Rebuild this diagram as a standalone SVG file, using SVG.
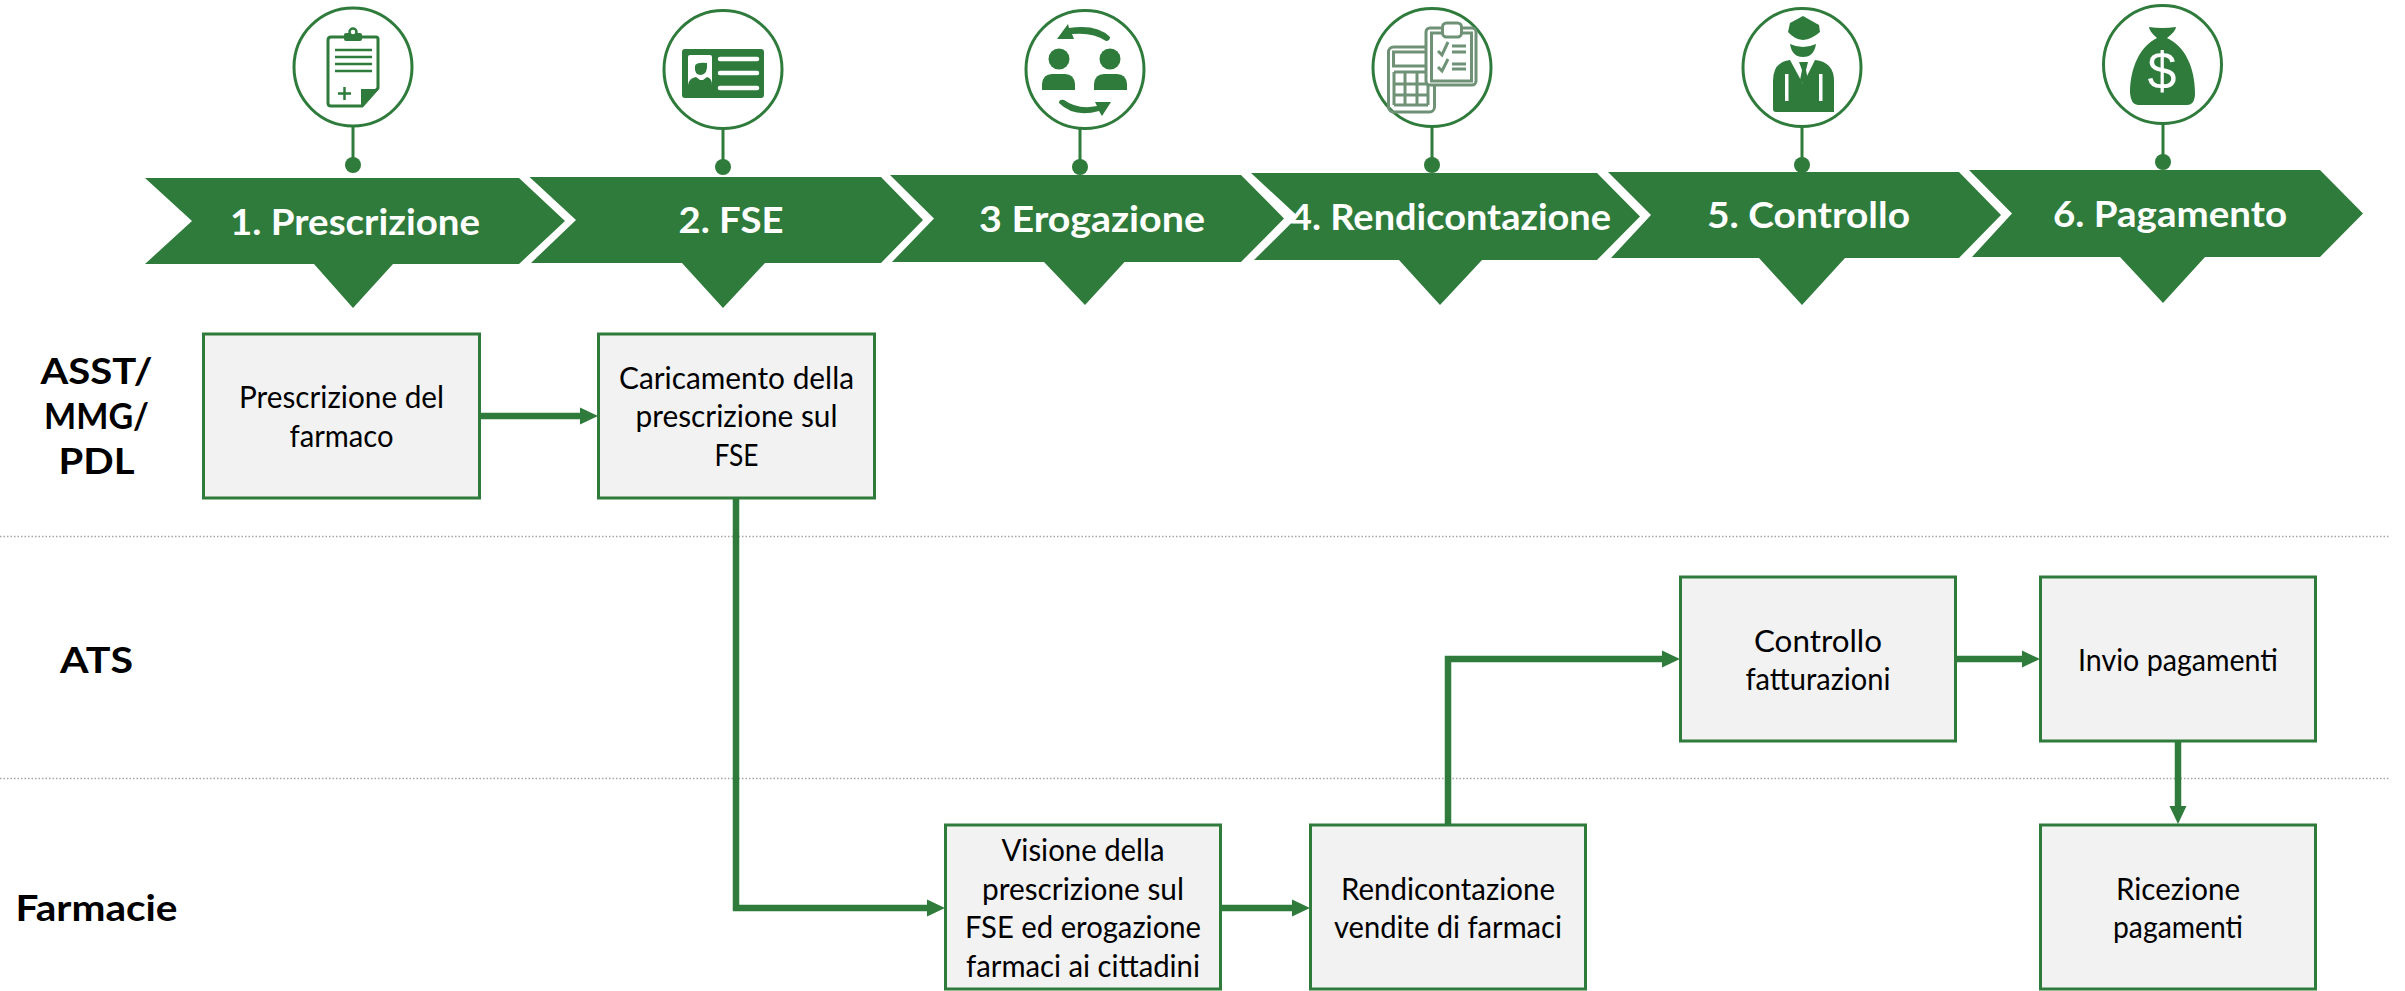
<svg xmlns="http://www.w3.org/2000/svg" width="2405" height="991" viewBox="0 0 2405 991">
<style>
text{font-family:"Lato","Liberation Sans",sans-serif;text-anchor:middle}
.chev{fill:#2E7B3B}
.ring{fill:#fff;stroke:#2E7B3B;stroke-width:3}
.stalk{stroke:#2E7B3B;stroke-width:3;fill:none}
.dot{fill:#2E7B3B}
.g{fill:#2E7B3B}
.w{fill:#fff}
.ol{fill:none;stroke:#2E7B3B;stroke-width:3}
.gl{fill:none;stroke:#2E7B3B;stroke-width:2.5}
.wl{fill:none;stroke:#fff;stroke-width:4.5;stroke-linecap:round}
.ic4{fill:none;stroke:#6F9277;stroke-width:3}
.title{font-size:37px;font-weight:700;fill:#fff}
.lane{font-size:36px;font-weight:700;fill:#000}
.box{fill:#F2F2F2;stroke:#2E7B3B;stroke-width:3}
.t{font-size:30.5px;fill:#000}
.sep{stroke:#A6A6A6;stroke-width:1.5;stroke-dasharray:1.5 2;fill:none}
.con{fill:none;stroke:#2E7B3B;stroke-width:6.5}
</style>
<defs>
<marker id="ah" markerUnits="userSpaceOnUse" markerWidth="18" markerHeight="18" refX="8" refY="9" orient="auto"><path d="M0,0.5 L18,9 L0,17.5 z" fill="#2E7B3B"/></marker>
</defs>

<g id="separators">
<line class="sep" x1="0" y1="536.5" x2="2390" y2="536.5"/>
<line class="sep" x1="0" y1="778.5" x2="2390" y2="778.5"/>
</g>

<g id="step1">
<path class="chev" d="M145,178 H519 L565,221 L519,264 H393 L353,308 L314,264 H145 L192,221 Z"/>
<line class="stalk" x1="353" y1="127" x2="353" y2="160"/><circle class="dot" cx="353" cy="165" r="8"/>
<circle class="ring" cx="353" cy="67" r="59"/>
<path class="ol" d="M331,37 H376 Q378,37 378,39 V88 L362,106 H331 Q328,106 328,103 V40 Q328,37 331,37 Z"/>
<rect class="g" x="344" y="33" width="18" height="8" rx="2"/><circle cx="353" cy="32" r="3.5" fill="#fff" stroke="#2E7B3B" stroke-width="2.5"/>
<path class="gl" d="M335,50H372M335,57H372M335,64H372M335,71H372M344.5,87V100M338,93.5H351"/>
<path class="g" d="M361,89 H379 L363,107 H361 Z"/>
<text class="title" x="355" y="235" textLength="250" lengthAdjust="spacingAndGlyphs">1. Prescrizione</text>
</g>

<g id="step2">
<path class="chev" d="M529.5,177 H881 L923,220 L881,263 H765 L723,308 L682,263 H531 L576,220 Z"/>
<line class="stalk" x1="723" y1="129" x2="723" y2="162"/><circle class="dot" cx="723" cy="167" r="8"/>
<circle class="ring" cx="723" cy="69.5" r="59"/>
<rect class="g" x="682" y="49" width="82" height="49" rx="3"/>
<path class="w" d="M690,55 H710 Q712,55 712,57 V85 H688 V57 Q688,55 690,55 Z"/>
<path class="g" d="M695,66 Q696,62 707,63 Q708,74 701,75 Q694,75 695,66 Z"/>
<path class="g" d="M688,85 Q689,78 696,77 L700,80 L703,80 L707,77 Q712,78 712,85 Z"/>
<path class="wl" d="M720,59H757M720,73H757M720,88H757"/>
<text class="title" x="731" y="233" textLength="105" lengthAdjust="spacingAndGlyphs">2. FSE</text>
</g>

<g id="step3">
<path class="chev" d="M890,175 H1241 L1284,218.5 L1241,262 H1124.5 L1085,305 L1044,262 H892 L934,218.5 Z"/>
<line class="stalk" x1="1080" y1="129" x2="1080" y2="162"/><circle class="dot" cx="1080" cy="167" r="8"/>
<circle class="ring" cx="1085" cy="69.5" r="59"/>
<circle class="g" cx="1059" cy="59" r="10.5"/><circle class="g" cx="1110" cy="59" r="10.5"/>
<path class="g" d="M1042,90 V84 Q1043,74 1052,74 H1065 Q1074,74 1075,84 V90 Z"/>
<path class="g" d="M1094,90 V84 Q1095,74 1104,74 H1117 Q1126,74 1127,84 V90 Z"/>
<path class="g" d="M1057,39 L1068,24 L1069,28 Q1097,24 1110,37 Q1110,41 1106,41 Q1093,32 1072,34 L1074,39 Z"/>
<path class="g" d="M1111,102 L1095,102 L1097,106 Q1078,110 1064,100 Q1059,99 1059,103 Q1074,118 1099,111 L1102,116 Z"/>
<text class="title" x="1092" y="232" textLength="226" lengthAdjust="spacingAndGlyphs">3 Erogazione</text>
</g>

<g id="step4">
<path class="chev" d="M1251,173 H1597 L1640,216.5 L1597,260 H1482 L1440,305 L1399,260 H1254 L1298,216.5 Z"/>
<line class="stalk" x1="1432" y1="127" x2="1432" y2="160"/><circle class="dot" cx="1432" cy="165" r="8"/>
<circle class="ring" cx="1432" cy="67.5" r="59"/>
<rect class="ic4" x="1388.5" y="47" width="46" height="65" rx="5"/>
<rect class="ic4" x="1393.5" y="52" width="34" height="14"/>
<path class="ic4" d="M1394,72H1428M1394,84H1428M1394,95H1428M1394,105H1428M1394,72V105M1405,72V105M1417,72V105M1428,72V105"/>
<rect x="1426" y="28" width="50" height="57" rx="4" fill="#fff" stroke="#6F9277" stroke-width="3"/>
<rect class="ic4" x="1431.5" y="33" width="40" height="48"/>
<rect x="1442.5" y="23" width="19" height="14" rx="4" fill="#fff" stroke="#6F9277" stroke-width="3"/>
<path class="ic4" d="M1438,51L1442,55L1448,42M1438,67L1442,71L1448,59M1452,46H1466M1452,52H1466M1452,64H1466M1452,69H1466"/>
<text class="title" x="1450.5" y="230" textLength="321" lengthAdjust="spacingAndGlyphs">4. Rendicontazione</text>
</g>

<g id="step5">
<path class="chev" d="M1608,172 H1959 L2001,215 L1959,258 H1845 L1802,305 L1759,258 H1611 L1651,215 Z"/>
<line class="stalk" x1="1802" y1="127" x2="1802" y2="160"/><circle class="dot" cx="1802" cy="165" r="8"/>
<circle class="ring" cx="1802" cy="67.5" r="59"/>
<path class="g" d="M1803,16 L1819,25 L1820,32 Q1812,39 1803,40 Q1794,39 1788,32 L1790,23 Z"/>
<path class="g" d="M1790,44 Q1803,50 1816,44 Q1814,57 1803,57 Q1792,57 1790,44 Z"/>
<path class="g" d="M1773,112 V81 Q1773,62 1790,60 L1803,84 L1815,60 Q1834,62 1834,81 V112 L1776,112 Q1773,112 1773,109 Z"/>
<path class="g" d="M1799,62 H1808 L1806,70 L1808,80 L1804,85 L1800,80 L1802,70 Z"/>
<rect class="w" x="1785" y="74" width="3.5" height="27"/><rect class="w" x="1819" y="74" width="3.5" height="27"/>
<text class="title" x="1808.5" y="228" textLength="203" lengthAdjust="spacingAndGlyphs">5. Controllo</text>
</g>

<g id="step6">
<path class="chev" d="M1969,170 H2320 L2363,213.5 L2320,257 H2205 L2163,303 L2120,257 H1972 L2012,213.5 Z"/>
<line class="stalk" x1="2163" y1="124" x2="2163" y2="157"/><circle class="dot" cx="2163" cy="162" r="8"/>
<circle class="ring" cx="2162.5" cy="64.5" r="59"/>
<path class="g" d="M2149,27 Q2162,29 2176,27 Q2176,31 2167,38 C2185,46 2195,68 2195,93 Q2195,105 2187,105 H2138 Q2131,105 2130,93 C2130,68 2140,46 2157,38 Q2149,31 2149,27 Z"/>
<text x="2162" y="89" font-size="52" fill="#fff" style="font-family:'Liberation Sans',sans-serif">$</text>
<text class="title" x="2170" y="227" textLength="234" lengthAdjust="spacingAndGlyphs">6. Pagamento</text>
</g>

<g id="lane-asst">
<text class="lane" x="96.5" y="384" textLength="112" lengthAdjust="spacingAndGlyphs">ASST/</text>
<text class="lane" x="96.5" y="429" textLength="105" lengthAdjust="spacingAndGlyphs">MMG/</text>
<text class="lane" x="96.5" y="474" textLength="76" lengthAdjust="spacingAndGlyphs">PDL</text>
</g>
<g id="lane-ats"><text class="lane" x="96.5" y="673" textLength="73" lengthAdjust="spacingAndGlyphs">ATS</text></g>
<g id="lane-farmacie"><text class="lane" x="96.5" y="921" textLength="162" lengthAdjust="spacingAndGlyphs">Farmacie</text></g>

<g id="connectors">
<path class="con" d="M480,416 H588" marker-end="url(#ah)"/>
<path class="con" d="M736,498 V908 H935" marker-end="url(#ah)"/>
<path class="con" d="M1221,908 H1300" marker-end="url(#ah)"/>
<path class="con" d="M1448,824 V659 H1670" marker-end="url(#ah)"/>
<path class="con" d="M1956,659 H2030" marker-end="url(#ah)"/>
<path class="con" d="M2178,742 V814" marker-end="url(#ah)"/>
</g>

<g id="box-prescrizione">
<rect class="box" x="203.5" y="334" width="276" height="164"/>
<text class="t" x="341.5" y="408" textLength="205" lengthAdjust="spacingAndGlyphs">Prescrizione del</text>
<text class="t" x="341.5" y="447" textLength="104" lengthAdjust="spacingAndGlyphs">farmaco</text>
</g>
<g id="box-caricamento">
<rect class="box" x="598.5" y="334" width="276" height="164"/>
<text class="t" x="736.5" y="389" textLength="235" lengthAdjust="spacingAndGlyphs">Caricamento della</text>
<text class="t" x="736.5" y="427" textLength="202" lengthAdjust="spacingAndGlyphs">prescrizione sul</text>
<text class="t" x="736.5" y="466" textLength="44" lengthAdjust="spacingAndGlyphs">FSE</text>
</g>
<g id="box-visione">
<rect class="box" x="945.5" y="825" width="275" height="164"/>
<text class="t" x="1083" y="861" textLength="163" lengthAdjust="spacingAndGlyphs">Visione della</text>
<text class="t" x="1083" y="900" textLength="202" lengthAdjust="spacingAndGlyphs">prescrizione sul</text>
<text class="t" x="1083" y="938" textLength="236" lengthAdjust="spacingAndGlyphs">FSE ed erogazione</text>
<text class="t" x="1083" y="977" textLength="234" lengthAdjust="spacingAndGlyphs">farmaci ai cittadini</text>
</g>
<g id="box-rendicontazione">
<rect class="box" x="1310.5" y="825" width="275" height="164"/>
<text class="t" x="1448" y="900" textLength="214" lengthAdjust="spacingAndGlyphs">Rendicontazione</text>
<text class="t" x="1448" y="938" textLength="228" lengthAdjust="spacingAndGlyphs">vendite di farmaci</text>
</g>
<g id="box-controllo">
<rect class="box" x="1680.5" y="577" width="275" height="164"/>
<text class="t" x="1818" y="652" textLength="128" lengthAdjust="spacingAndGlyphs">Controllo</text>
<text class="t" x="1818" y="690" textLength="145" lengthAdjust="spacingAndGlyphs">fatturazioni</text>
</g>
<g id="box-invio">
<rect class="box" x="2040.5" y="577" width="275" height="164"/>
<text class="t" x="2178" y="671" textLength="200" lengthAdjust="spacingAndGlyphs">Invio pagamenti</text>
</g>
<g id="box-ricezione">
<rect class="box" x="2040.5" y="825" width="275" height="164"/>
<text class="t" x="2178" y="900" textLength="124" lengthAdjust="spacingAndGlyphs">Ricezione</text>
<text class="t" x="2178" y="938" textLength="130" lengthAdjust="spacingAndGlyphs">pagamenti</text>
</g>
</svg>
